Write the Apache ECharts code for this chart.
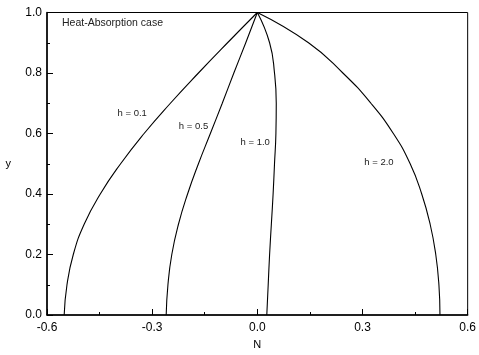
<!DOCTYPE html>
<html>
<head>
<meta charset="utf-8">
<script src="https://cdn.jsdelivr.net/npm/echarts@6/dist/echarts.min.js"></script>
<style>html,body{margin:0;padding:0;background:#fff}#c{width:479px;height:355px}</style>
</head>
<body>
<div id="c"></div>
<script>
// Data (x = N, y = y)
const seriesNames = ['h = 0.1', 'h = 0.5', 'h = 1.0', 'h = 2.0'];
const yLevels = [0, 0.1, 0.2, 0.3, 0.4, 0.5, 0.6, 0.7, 0.8, 0.9, 1.0];
const n01 = [-0.551, -0.543, -0.525, -0.494, -0.448, -0.390, -0.323, -0.248, -0.168, -0.085, 0];
const n05 = [-0.260, -0.255, -0.244, -0.225, -0.199, -0.168, -0.134, -0.100, -0.067, -0.033, 0];
const n10 = [0.027, 0.031, 0.035, 0.040, 0.045, 0.049, 0.053, 0.054, 0.049, 0.035, 0];
const n20 = [0.521, 0.518, 0.509, 0.493, 0.469, 0.436, 0.388, 0.324, 0.244, 0.146, 0];
// Curve label anchor points (data coordinates)
const labelN = [-0.357, -0.182, -0.006, 0.347];
const labelY = [0.667, 0.625, 0.571, 0.503];
const xTicks = [-0.6, -0.3, 0.0, 0.3, 0.6];
const yTicks = [0.0, 0.2, 0.4, 0.6, 0.8, 1.0];
const title = 'Heat-Absorption case';

const xs = [n01, n05, n10, n20];

const FONT = 'Liberation Sans, Arial, sans-serif';
const chart = echarts.init(document.getElementById('c'), null, {renderer: 'canvas'});

const series = xs.map((xArr, i) => ({
  name: seriesNames[i],
  type: 'line',
  smooth: 0.5,
  showSymbol: false,
  symbol: 'none',
  lineStyle: {color: '#000', width: 1.1},
  data: xArr.map((v, k) => [v, yLevels[k]]),
  markPoint: {
    symbol: 'rect',
    symbolSize: 1,
    itemStyle: {color: 'rgba(0,0,0,0)'},
    label: {show: true, position: 'inside', color: '#222', fontSize: 9.5, fontFamily: FONT,
            formatter: seriesNames[i]},
    data: [{coord: [labelN[i], labelY[i]]}]
  },
  z: 3
}));

chart.setOption({
  animation: false,
  backgroundColor: '#fff',
  grid: {left: 47, right: 10, top: 12.5, bottom: 32.3, show: true, borderColor: '#000', borderWidth: 1, backgroundColor: 'transparent'},
  xAxis: {
    type: 'value', min: -0.6, max: 0.6, interval: 0.3,
    name: 'N', nameLocation: 'middle', nameGap: 24,
    nameTextStyle: {color: '#000', fontSize: 11, fontFamily: FONT},
    axisLine: {show: true, onZero: false, lineStyle: {color: '#000', width: 1.5}},
    axisTick: {show: true, inside: true, length: 6, lineStyle: {color: '#000', width: 1}},
    minorTick: {show: true, splitNumber: 2, length: 3, lineStyle: {color: '#000', width: 1}},
    splitLine: {show: false},
    axisLabel: {color: '#000', fontSize: 12, fontFamily: FONT, margin: 7,
      formatter: v => { const t = xTicks.find(a => Math.abs(a - v) < 1e-9); return t === undefined ? '' : t.toFixed(1); }}
  },
  yAxis: {
    type: 'value', min: 0, max: 1.0, interval: 0.2,
    name: 'y', nameLocation: 'middle', nameGap: 36, nameRotate: 0,
    nameTextStyle: {color: '#000', fontSize: 11, fontFamily: FONT},
    axisLine: {show: true, onZero: false, lineStyle: {color: '#000', width: 1.5}},
    axisTick: {show: true, inside: true, length: 6, lineStyle: {color: '#000', width: 1}},
    minorTick: {show: true, splitNumber: 2, length: 3, lineStyle: {color: '#000', width: 1}},
    splitLine: {show: false},
    axisLabel: {color: '#000', fontSize: 12, fontFamily: FONT, margin: 5,
      formatter: v => { const t = yTicks.find(a => Math.abs(a - v) < 1e-9); return t === undefined ? '' : t.toFixed(1); }}
  },
  graphic: [{
    type: 'text', left: 62, top: 18,
    style: {text: title, fill: '#222', fontSize: 10.5, fontFamily: FONT}
  }],
  series: series
});
</script>
</body>
</html>
